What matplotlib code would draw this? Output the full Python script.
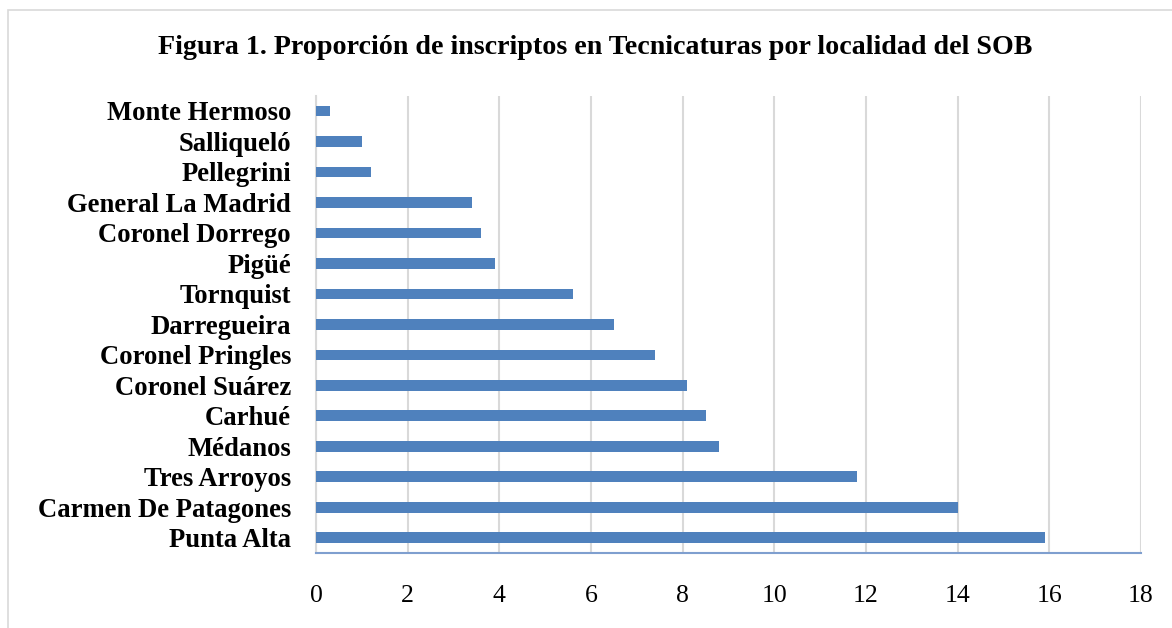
import matplotlib
matplotlib.use("Agg")
import matplotlib.pyplot as plt
from matplotlib.patches import Rectangle

categories = ["Monte Hermoso", "Salliqueló", "Pellegrini", "General La Madrid",
              "Coronel Dorrego", "Pigüé", "Tornquist", "Darregueira",
              "Coronel Pringles", "Coronel Suárez", "Carhué", "Médanos",
              "Tres Arroyos", "Carmen De Patagones", "Punta Alta"]
values = [0.3, 1.0, 1.2, 3.4, 3.6, 3.9, 5.6, 6.5, 7.4, 8.1, 8.5, 8.8, 11.8, 14.0, 15.9]
xticks = [0, 2, 4, 6, 8, 10, 12, 14, 16, 18]
title = "Figura 1. Proporción de inscriptos en Tecnicaturas por localidad del SOB"

plt.rcParams['font.family'] = ['Liberation Serif', 'DejaVu Serif']

W, H = 1172, 628
fig = plt.figure(figsize=(W / 100, H / 100), dpi=100)
fig.patches.append(Rectangle((8 / W, -0.1), 1.2, (1 - 10 / H) + 0.1, transform=fig.transFigure,
                             fill=False, edgecolor='#D9D9D9', linewidth=1.2))

ax = fig.add_axes([316 / W, 1 - 553 / H, (1141 - 316) / W, (553 - 95.7) / H])
ypos = list(range(len(categories)))
ax.barh(ypos, values, height=0.35, color='#4F81BD', zorder=3)
ax.set_ylim(len(categories) - 0.5, -0.5)
ax.set_xlim(0, 18)
ax.set_xticks(xticks)
ax.set_xticklabels([str(t) for t in xticks], fontsize=18.5)
ax.set_yticks(ypos)
ax.set_yticklabels(categories, fontsize=19.2, fontweight='bold')
ax.tick_params(axis='both', length=0)
ax.tick_params(axis='x', pad=23)
ax.tick_params(axis='y', pad=18)
ax.grid(axis='x', color='#D9D9D9', linewidth=1.5, zorder=0)
for s in ['top', 'right']:
    ax.spines[s].set_visible(False)
ax.spines['left'].set_color('#D9D9D9')
ax.spines['left'].set_linewidth(1.5)
ax.spines['bottom'].set_color('#7F9FCF')
ax.spines['bottom'].set_linewidth(1.5)

fig.text(595 / W, 1 - 48 / H, title, ha='center', va='center', fontsize=20.2, fontweight='bold')

fig.savefig("out.png", dpi=100)
